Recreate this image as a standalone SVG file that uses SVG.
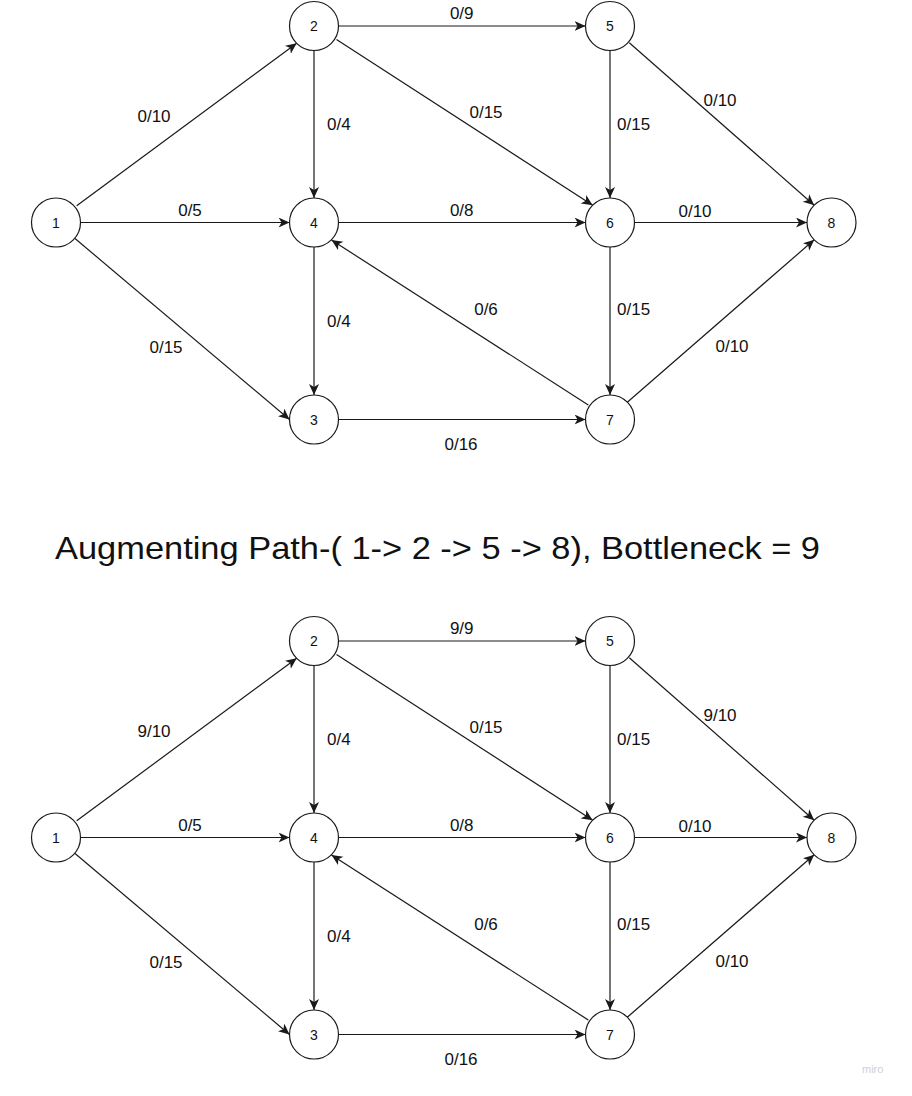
<svg xmlns="http://www.w3.org/2000/svg" width="912" height="1096" viewBox="0 0 912 1096">
<style>
.n{fill:#fff;stroke:#1a1a1a;stroke-width:1.2}
.nt{font-family:"Liberation Sans",Arial,sans-serif;font-size:14px;fill:#111;text-anchor:middle}
.e{stroke:#1a1a1a;stroke-width:1.2;fill:none;marker-end:url(#arr)}
.l{font-family:"Liberation Sans",Arial,sans-serif;font-size:17px;fill:#111}
.m{text-anchor:middle}
.title{font-family:"Liberation Sans",Arial,sans-serif;font-size:32px;fill:#111}
.wm{font-family:"Liberation Sans",Arial,sans-serif;font-size:11px;fill:#cfcfd8}
</style>
<defs>
<marker id="arr" markerUnits="userSpaceOnUse" markerWidth="13" markerHeight="11" refX="11" refY="5" orient="auto">
<path d="M0,0 L11,5 L0,10 L3,5 Z" fill="#1a1a1a"/>
</marker>
</defs>
<rect width="912" height="1096" fill="#fff"/>

<g id="graph-top">
<g id="connectors-top">
<line class="e" x1="76.7" y1="205.7" x2="296.7" y2="43.3"/>
<line class="e" x1="80.5" y1="222.5" x2="289.5" y2="222.5"/>
<line class="e" x1="75" y1="238.5" x2="289.5" y2="419.5"/>
<line class="e" x1="338.5" y1="26" x2="585.5" y2="26"/>
<line class="e" x1="314" y1="50.5" x2="314" y2="198"/>
<line class="e" x1="336.5" y1="39.5" x2="592.7" y2="205.2"/>
<line class="e" x1="610" y1="50.5" x2="610" y2="198"/>
<line class="e" x1="629.3" y1="42.7" x2="814.2" y2="205.2"/>
<line class="e" x1="338.5" y1="222.5" x2="585.5" y2="222.5"/>
<line class="e" x1="634.5" y1="222.5" x2="807" y2="222.5"/>
<line class="e" x1="314" y1="247" x2="314" y2="395"/>
<line class="e" x1="610" y1="247" x2="610" y2="395"/>
<line class="e" x1="588.3" y1="405" x2="331.5" y2="240"/>
<line class="e" x1="338.5" y1="419.5" x2="585.5" y2="419.5"/>
<line class="e" x1="627.3" y1="402.2" x2="814.2" y2="239.8"/>
<text class="l m" x="154" y="122">0/10</text>
<text class="l" x="327" y="130">0/4</text>
<text class="l m" x="461.7" y="19.3">0/9</text>
<text class="l m" x="486" y="118">0/15</text>
<text class="l" x="617" y="130">0/15</text>
<text class="l m" x="720" y="106">0/10</text>
<text class="l m" x="695" y="216.7">0/10</text>
<text class="l m" x="190" y="216">0/5</text>
<text class="l m" x="461.7" y="216">0/8</text>
<text class="l m" x="166" y="352.7">0/15</text>
<text class="l" x="327" y="327">0/4</text>
<text class="l m" x="486" y="315">0/6</text>
<text class="l" x="617" y="315">0/15</text>
<text class="l m" x="461" y="450">0/16</text>
<text class="l m" x="732" y="352">0/10</text>
</g>
<g id="t1"><circle class="n" cx="56" cy="222.5" r="24.5"/><text class="nt" x="56" y="227.5">1</text></g>
<g id="t2"><circle class="n" cx="314" cy="26" r="24.5"/><text class="nt" x="314" y="31">2</text></g>
<g id="t3"><circle class="n" cx="314" cy="419.5" r="24.5"/><text class="nt" x="314" y="424.5">3</text></g>
<g id="t4"><circle class="n" cx="314" cy="222.5" r="24.5"/><text class="nt" x="314" y="227.5">4</text></g>
<g id="t5"><circle class="n" cx="610" cy="26" r="24.5"/><text class="nt" x="610" y="31">5</text></g>
<g id="t6"><circle class="n" cx="610" cy="222.5" r="24.5"/><text class="nt" x="610" y="227.5">6</text></g>
<g id="t7"><circle class="n" cx="610" cy="419.5" r="24.5"/><text class="nt" x="610" y="424.5">7</text></g>
<g id="t8"><circle class="n" cx="831.5" cy="222.5" r="24.5"/><text class="nt" x="831.5" y="227.5">8</text></g>
</g>

<text class="title" x="55" y="559" textLength="765" lengthAdjust="spacingAndGlyphs">Augmenting Path-( 1-&gt; 2 -&gt; 5 -&gt; 8), Bottleneck = 9</text>

<g id="graph-bottom" transform="translate(0,615)">
<g id="connectors-bottom">
<line class="e" x1="76.7" y1="205.7" x2="296.7" y2="43.3"/>
<line class="e" x1="80.5" y1="222.5" x2="289.5" y2="222.5"/>
<line class="e" x1="75" y1="238.5" x2="289.5" y2="419.5"/>
<line class="e" x1="338.5" y1="26" x2="585.5" y2="26"/>
<line class="e" x1="314" y1="50.5" x2="314" y2="198"/>
<line class="e" x1="336.5" y1="39.5" x2="592.7" y2="205.2"/>
<line class="e" x1="610" y1="50.5" x2="610" y2="198"/>
<line class="e" x1="629.3" y1="42.7" x2="814.2" y2="205.2"/>
<line class="e" x1="338.5" y1="222.5" x2="585.5" y2="222.5"/>
<line class="e" x1="634.5" y1="222.5" x2="807" y2="222.5"/>
<line class="e" x1="314" y1="247" x2="314" y2="395"/>
<line class="e" x1="610" y1="247" x2="610" y2="395"/>
<line class="e" x1="588.3" y1="405" x2="331.5" y2="240"/>
<line class="e" x1="338.5" y1="419.5" x2="585.5" y2="419.5"/>
<line class="e" x1="627.3" y1="402.2" x2="814.2" y2="239.8"/>
<text class="l m" x="154" y="122">9/10</text>
<text class="l" x="327" y="130">0/4</text>
<text class="l m" x="461.7" y="19.3">9/9</text>
<text class="l m" x="486" y="118">0/15</text>
<text class="l" x="617" y="130">0/15</text>
<text class="l m" x="720" y="106">9/10</text>
<text class="l m" x="695" y="216.7">0/10</text>
<text class="l m" x="190" y="216">0/5</text>
<text class="l m" x="461.7" y="216">0/8</text>
<text class="l m" x="166" y="352.7">0/15</text>
<text class="l" x="327" y="327">0/4</text>
<text class="l m" x="486" y="315">0/6</text>
<text class="l" x="617" y="315">0/15</text>
<text class="l m" x="461" y="450">0/16</text>
<text class="l m" x="732" y="352">0/10</text>
</g>
<g id="b1"><circle class="n" cx="56" cy="222.5" r="24.5"/><text class="nt" x="56" y="227.5">1</text></g>
<g id="b2"><circle class="n" cx="314" cy="26" r="24.5"/><text class="nt" x="314" y="31">2</text></g>
<g id="b3"><circle class="n" cx="314" cy="419.5" r="24.5"/><text class="nt" x="314" y="424.5">3</text></g>
<g id="b4"><circle class="n" cx="314" cy="222.5" r="24.5"/><text class="nt" x="314" y="227.5">4</text></g>
<g id="b5"><circle class="n" cx="610" cy="26" r="24.5"/><text class="nt" x="610" y="31">5</text></g>
<g id="b6"><circle class="n" cx="610" cy="222.5" r="24.5"/><text class="nt" x="610" y="227.5">6</text></g>
<g id="b7"><circle class="n" cx="610" cy="419.5" r="24.5"/><text class="nt" x="610" y="424.5">7</text></g>
<g id="b8"><circle class="n" cx="831.5" cy="222.5" r="24.5"/><text class="nt" x="831.5" y="227.5">8</text></g>
</g>

<text class="wm" x="862" y="1073">miro</text>
</svg>
